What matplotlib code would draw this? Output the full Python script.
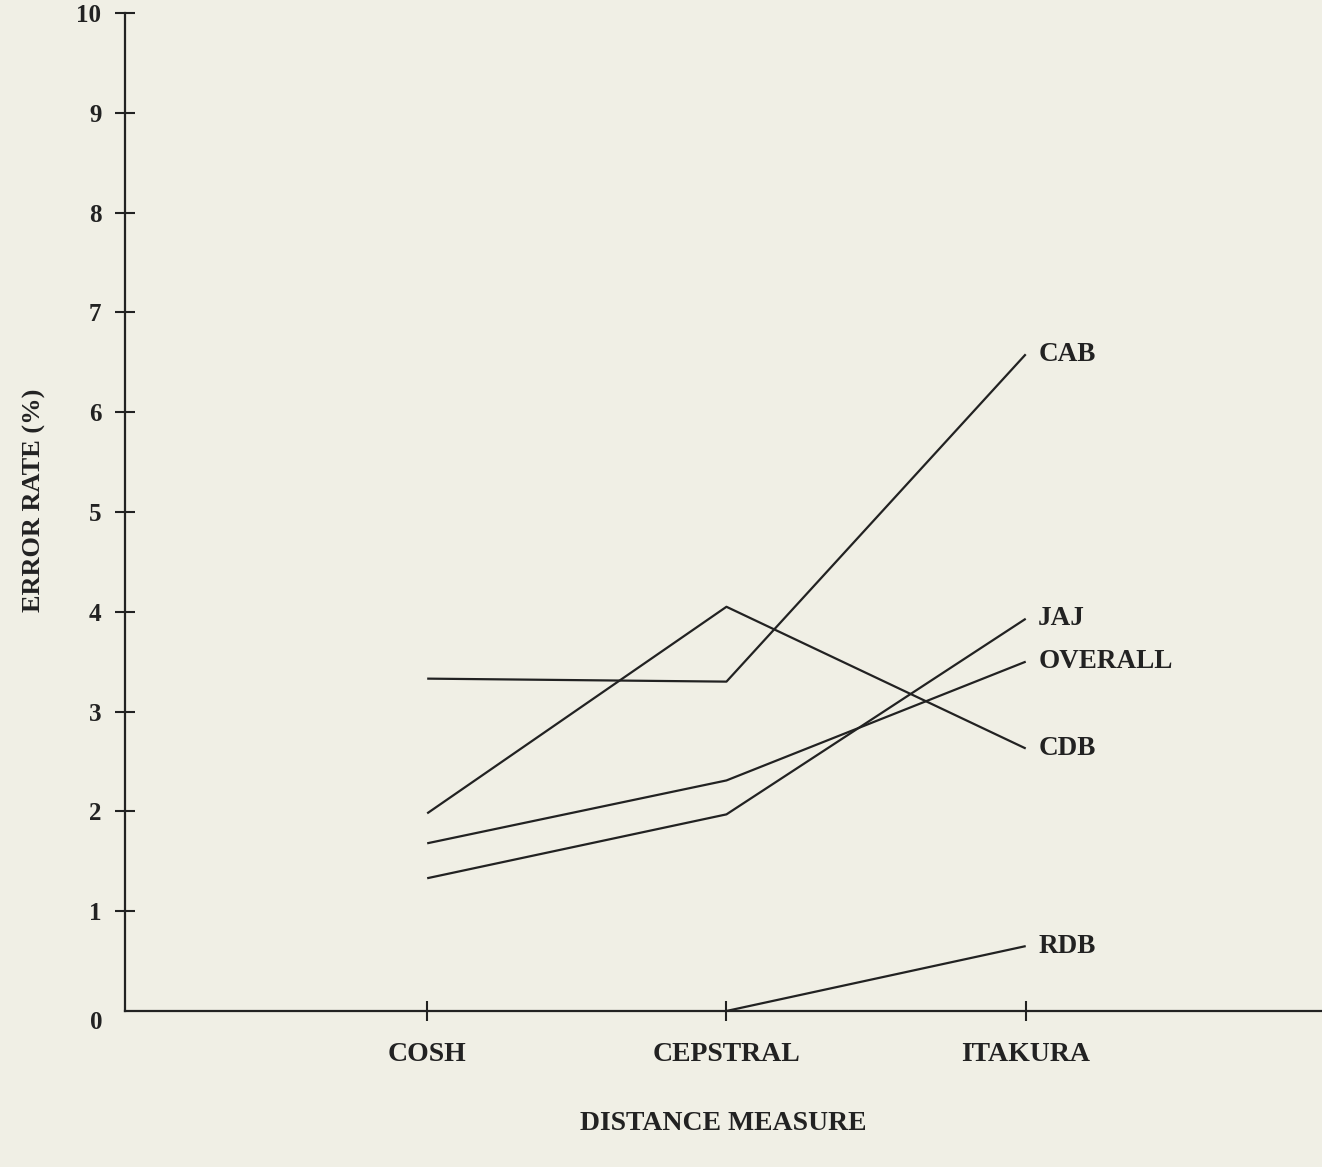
import matplotlib.pyplot as plt

# Data
measures = ["COSH", "CEPSTRAL", "ITAKURA"]
cab = [3.33, 3.30, 6.58]
cdb = [1.98, 4.05, 2.63]
jaj = [1.33, 1.97, 3.93]
overall = [1.68, 2.31, 3.50]
rdb_x = [2, 3]
rdb = [0.0, 0.65]

series = [
    ("CAB", [1, 2, 3], cab),
    ("JAJ", [1, 2, 3], jaj),
    ("OVERALL", [1, 2, 3], overall),
    ("CDB", [1, 2, 3], cdb),
    ("RDB", rdb_x, rdb),
]

bg = "#f0efe5"
ink = "#222222"
font = ["Liberation Serif", "DejaVu Serif"]

fig = plt.figure(figsize=(13.22, 11.67), dpi=100, facecolor=bg)
ax = fig.add_axes([0.0945, 0.1337, 0.9055, 0.8552], facecolor=bg)

for name, xs, ys in series:
    ax.plot(xs, ys, color=ink, linewidth=1.6, solid_capstyle="butt")
    ax.annotate(
        name,
        xy=(xs[-1], ys[-1]),
        xytext=(9, 0),
        textcoords="offset points",
        ha="left",
        va="center",
        fontsize=19.5,
        fontweight="bold",
        family=font,
        color=ink,
    )

ax.set_xlim(-0.01, 3.99)
ax.set_ylim(0, 10)

ax.spines["top"].set_visible(False)
ax.spines["right"].set_visible(False)
for side in ("left", "bottom"):
    ax.spines[side].set_color(ink)
    ax.spines[side].set_linewidth(1.6)

ax.set_xticks([1, 2, 3])
ax.set_xticklabels(measures)
ax.set_yticks(range(1, 11))
ax.set_yticklabels([str(v) for v in range(1, 11)])
ax.tick_params(axis="x", direction="inout", length=14, width=1.5, color=ink, pad=15)
ax.tick_params(axis="y", direction="inout", length=14, width=1.5, color=ink, pad=10)
ax.text(-0.085, 0, "0", transform=ax.transData, ha="right", va="top",
        fontsize=18, fontweight="bold", family=font, color=ink)

for lab in ax.get_xticklabels():
    lab.set_fontsize(20)
for lab in ax.get_yticklabels():
    lab.set_fontsize(18)
for lab in ax.get_xticklabels() + ax.get_yticklabels():
    lab.set_fontweight("bold")
    lab.set_family(font)
    lab.set_color(ink)

ax.set_xlabel("DISTANCE MEASURE", fontsize=20, fontweight="bold", family=font,
              color=ink, labelpad=32)
ax.set_ylabel("ERROR RATE (%)", fontsize=19, fontweight="bold", family=font,
              color=ink, labelpad=22)
ax.yaxis.label.set_y(0.512)

fig.savefig("out.png", dpi=100, facecolor=bg)
